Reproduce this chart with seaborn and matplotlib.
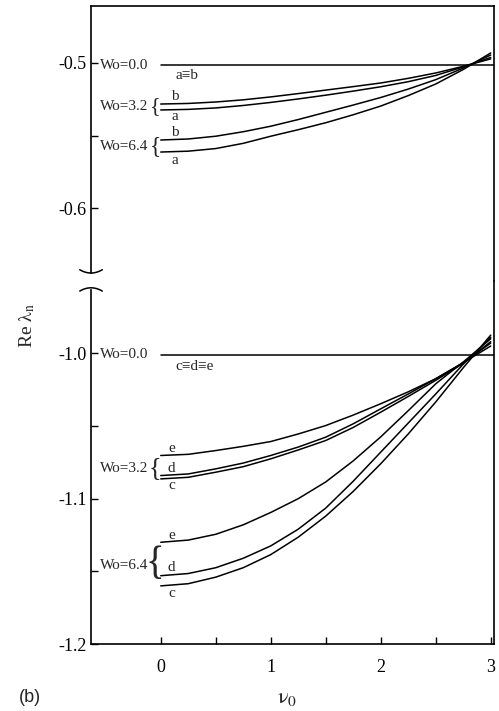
import numpy as np
import pandas as pd
import matplotlib
matplotlib.use("Agg")
import matplotlib.pyplot as plt
import seaborn as sns

# values
nu = [0, 0.25, 0.5, 0.75, 1.0, 1.25, 1.5, 1.75, 2.0, 2.25, 2.5, 2.75, 3.0]

# upper group (a, b)
top_wo32_b = [-0.5283, -0.5279, -0.5269, -0.5254, -0.5234, -0.5211, -0.5187, -0.5163, -0.5138, -0.5106, -0.5069, -0.5023, -0.4972]
top_wo32_a = [-0.5324, -0.5320, -0.5310, -0.5293, -0.5272, -0.5248, -0.5222, -0.5194, -0.5164, -0.5129, -0.5086, -0.5027, -0.4962]
top_wo64_b = [-0.5531, -0.5524, -0.5505, -0.5474, -0.5436, -0.5390, -0.5340, -0.5290, -0.5238, -0.5180, -0.5115, -0.5035, -0.4945]
top_wo64_a = [-0.5614, -0.5608, -0.5590, -0.5554, -0.5505, -0.5460, -0.5412, -0.5357, -0.5297, -0.5225, -0.5145, -0.5045, -0.4931]

# lower group (c, d, e)
bot_wo32_e = [-1.0703, -1.0695, -1.0669, -1.0640, -1.0607, -1.0555, -1.0497, -1.0425, -1.0347, -1.0265, -1.0175, -1.0065, -0.9950]
bot_wo32_d = [-1.0841, -1.0830, -1.0795, -1.0755, -1.0703, -1.0645, -1.0577, -1.0485, -1.0382, -1.0280, -1.0175, -1.0065, -0.9930]
bot_wo32_c = [-1.0864, -1.0853, -1.0818, -1.0780, -1.0726, -1.0665, -1.0600, -1.0510, -1.0405, -1.0297, -1.0186, -1.0069, -0.9920]
bot_wo64_e = [-1.1300, -1.1285, -1.1245, -1.1180, -1.1095, -1.1000, -1.0885, -1.0740, -1.0575, -1.0395, -1.0210, -1.0060, -0.9900]
bot_wo64_d = [-1.1530, -1.1515, -1.1475, -1.1410, -1.1325, -1.1210, -1.1065, -1.0880, -1.0680, -1.0480, -1.0280, -1.0075, -0.9890]
bot_wo64_c = [-1.1600, -1.1585, -1.1540, -1.1475, -1.1385, -1.1265, -1.1120, -1.0950, -1.0760, -1.0555, -1.0335, -1.0100, -0.9875]

# Wo = 0.0 lines (a = b, c = d = e)
flat_nu = [0, 3.03]
top_wo00 = [-0.5015, -0.5015]
bot_wo00 = [-1.001, -1.001]


def long_df(curves, x):
    frames = []
    for name, vals in curves.items():
        frames.append(pd.DataFrame({'nu': x, 're': vals, 'curve': name}))
    return pd.concat(frames, ignore_index=True)


top_df = long_df({'3.2b': top_wo32_b, '3.2a': top_wo32_a,
                  '6.4b': top_wo64_b, '6.4a': top_wo64_a}, nu)
top_df = pd.concat([top_df, long_df({'0.0': top_wo00}, flat_nu)], ignore_index=True)
bot_df = long_df({'3.2e': bot_wo32_e, '3.2d': bot_wo32_d, '3.2c': bot_wo32_c,
                  '6.4e': bot_wo64_e, '6.4d': bot_wo64_d, '6.4c': bot_wo64_c}, nu)
bot_df = pd.concat([bot_df, long_df({'0.0': bot_wo00}, flat_nu)], ignore_index=True)

sns.set_style("ticks")
plt.rcParams['font.family'] = ['Liberation Serif', 'DejaVu Serif']
plt.rcParams['mathtext.fontset'] = 'stix'

fig = plt.figure(figsize=(4.99, 7.11), dpi=100)
ax_top = fig.add_axes([0.1824, 0.6048, 0.8076, 0.3868])
ax_bot = fig.add_axes([0.1824, 0.0942, 0.8076, 0.5105])

for ax, df in [(ax_top, top_df), (ax_bot, bot_df)]:
    n = df['curve'].nunique()
    sns.lineplot(data=df, x='nu', y='re', hue='curve', palette=['black'] * n,
                 legend=False, ax=ax, lw=1.1, estimator=None, sort=True)
    ax.set_xlim(-0.634, 3.03)
    ax.set_xlabel('')
    ax.set_ylabel('')
    for sp in ax.spines.values():
        sp.set_linewidth(1.2)
        sp.set_color('black')
    ax.tick_params(which='both', direction='in', length=5, width=1,
                   colors='black', labelsize=13, pad=3)

# upper panel
ax_top.set_ylim(-0.6503, -0.4607)
ax_top.set_yticks([-0.5, -0.6])
ax_top.set_yticks([-0.55], minor=True)
ax_top.set_yticklabels(['-0.5', '-0.6'])
ax_top.set_xticks([])
ax_top.spines['bottom'].set_visible(False)
ax_top.spines['left'].set_bounds(-0.6448, -0.4607)

# lower panel
ax_bot.set_ylim(-1.2, -0.9503)
ax_bot.set_yticks([-1.0, -1.1, -1.2])
ax_bot.set_yticks([-1.05, -1.15], minor=True)
ax_bot.set_yticklabels(['-1.0', '-1.1', '-1.2'])
ax_bot.set_xticks([0, 1, 2, 3])
ax_bot.set_xticks([0.5, 1.5, 2.5], minor=True)
ax_bot.spines['top'].set_visible(False)
ax_bot.spines['left'].set_bounds(-1.2, -0.9566)
ax_bot.tick_params(axis='x', pad=11)

# axis break marks on the left spine
t = np.linspace(-1, 1, 30)
ax_top.plot(0.028 * t, 0.029 + 0.012 * t ** 2, color='black', lw=1.1,
            transform=ax_top.transAxes, clip_on=False)
ax_bot.plot(0.028 * t, 0.9814 - 0.009 * t ** 2, color='black', lw=1.1,
            transform=ax_bot.transAxes, clip_on=False)

# curve annotations
lab = dict(fontsize=11, va='center', ha='left')
sm = dict(fontsize=11, va='center', ha='center')
brace_x = -0.05
ax_top.text(-0.555, -0.5015, 'Wo=0.0', **lab)
ax_top.text(0.24, -0.5085, 'a\u2261b', **sm)
ax_top.text(-0.555, -0.5303, 'Wo=3.2', **lab)
ax_top.text(brace_x, -0.5303, '{', fontsize=16, va='center', ha='center')
ax_top.text(0.13, -0.5232, 'b', **sm)
ax_top.text(0.13, -0.5372, 'a', **sm)
ax_top.text(-0.555, -0.5579, 'Wo=6.4', **lab)
ax_top.text(brace_x, -0.5579, '{', fontsize=17, va='center', ha='center')
ax_top.text(0.13, -0.5481, 'b', **sm)
ax_top.text(0.13, -0.5669, 'a', **sm)

ax_bot.text(-0.555, -1.001, 'Wo=0.0', **lab)
ax_bot.text(0.31, -1.009, 'c\u2261d\u2261e', **sm)
ax_bot.text(-0.555, -1.0793, 'Wo=3.2', **lab)
ax_bot.text(brace_x, -1.0790, '{', fontsize=19, va='center', ha='center')
ax_bot.text(0.10, -1.0652, 'e', **sm)
ax_bot.text(0.10, -1.0790, 'd', **sm)
ax_bot.text(0.10, -1.0912, 'c', **sm)
ax_bot.text(-0.555, -1.1460, 'Wo=6.4', **lab)
ax_bot.text(brace_x, -1.1450, '{', fontsize=28, va='center', ha='center')
ax_bot.text(0.10, -1.1252, 'e', **sm)
ax_bot.text(0.10, -1.1473, 'd', **sm)
ax_bot.text(0.10, -1.1652, 'c', **sm)

# axis titles
fig.text(27 / 499, 1 - 325 / 711, r'Re $\mathrm{\lambda_n}$', rotation=90, fontsize=14,
         ha='center', va='center')
fig.text(287 / 499, 1 - 698 / 711, r'$\mathrm{\nu_0}$', fontsize=16, ha='center', va='center')
fig.text(30 / 499, 1 - 697 / 711, '(b)', fontsize=13, ha='center', va='center',
         family=['Liberation Sans', 'DejaVu Sans'])

fig.savefig('out.png', dpi=100)
